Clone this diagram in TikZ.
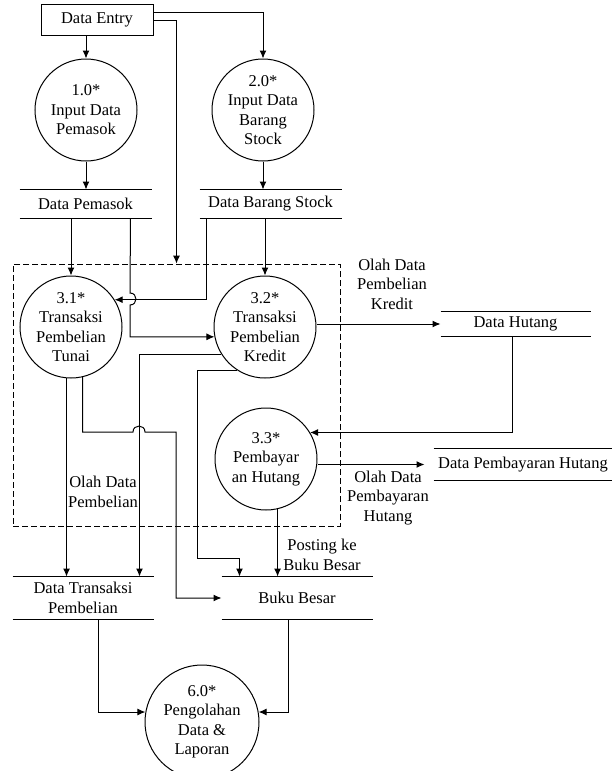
\documentclass[tikz,border=0pt]{standalone}
\usepackage{fontspec}
\setmainfont{Liberation Serif}
\usetikzlibrary{calc,arrows,arrows.meta}

\begin{document}
\begin{tikzpicture}[x=1pt,y=-1pt,line width=1pt,
    every node/.style={font=\fontsize{16.5}{19.5}\selectfont},
    proc/.style={circle,draw,minimum size=102pt,inner sep=0pt,align=center},
    store/.style={inner sep=0pt},
    lbl/.style={align=center},
    flow/.style={-{Latex[length=8pt,width=7pt]}}]
                 \useasboundingbox (0,0) rectangle (612,771);
                 \node[draw,minimum width=112pt,minimum height=31pt](entry)at(97,20){Data Entry};
                 \node[proc](p1)at(86,110){1.0*\\Input Data\\Pemasok};
                 \node[proc](p2)at(263,110){2.0*\\Input Data\\Barang\\Stock};
                 \node[store,minimum width=131pt,minimum height=28pt](pemasok)at(85.5,204){Data Pemasok};
                 \node[store,minimum width=141pt,minimum height=28pt](barang)at(270.5,204){Data Barang Stock};
                 \node[draw,dash pattern=on 6pt off 3pt,line width=0.8pt,minimum width=327pt,minimum height=262pt](grp)at(176.5,395){};
                 \node[proc](p31)at(71,327){3.1*\\Transaksi\\Pembelian\\Tunai};
                 \node[proc](p32)at(265,327){3.2*\\Transaksi\\Pembelian\\Kredit};
                 \node[proc](p33)at(266,459){3.3*\\Pembayar\\an Hutang};
                 \node[store,minimum width=149pt,minimum height=24pt](hutang)at(515.5,324){Data Hutang};
                 \node[store,minimum width=178pt,minimum height=31pt](bayar)at(523,464.5){Data Pembayaran Hutang};
                 \node[store,align=center,minimum width=140pt,minimum height=42pt](transaksi)at(83,598){Data Transaksi\\Pembelian};
                 \node[store,minimum width=150pt,minimum height=42pt](buku)at(297,598){Buku Besar};
                 \node[proc,minimum size=114pt](p6)at(202,722){6.0*\\Pengolahan\\Data \&\\Laporan};
                 \node[lbl](olahkredit)at(392,284){Olah Data\\Pembelian\\Kredit};
                 \node[lbl](olahbeli)at(103,492){Olah Data\\Pembelian};
                 \node[lbl](olahbayar)at(388,498){Olah Data\\Pembayaran\\Hutang};
                 \node[lbl](posting)at(322,555){Posting ke\\Buku Besar};
                 \foreach \s in {pemasok,barang,hutang,bayar,transaksi,buku}
                   \draw (\s.north west)--(\s.north east) (\s.south west)--(\s.south east);
                 \draw[flow](p1.north |- entry.south)--(p1.north);
                 \draw[flow](entry.8)-|(p2.north);
                 \draw[flow](entry.east)-|(grp.north);
                 \draw[flow](p1.south)--(p1.south |- pemasok.north);
                 \draw[flow](p2.south)--(p2.south |- barang.north);
                 \draw[flow](p31.north |- pemasok.south)--(p31.north);
                 \draw[flow]($(pemasok.south east)+(-21,0)$)--(130,293) to[out=0,in=0,looseness=1.7](130,305)|-(p32.191);
                 \draw[flow]($(barang.south west)+(7,0)$)|-(p31.32);
                 \draw[flow](p32.north |- barang.south)--(p32.north);
                 \draw[flow](p31.265)--(p31.265 |- transaksi.north);
                 \draw[flow](p31.283)|-(133,432) to[out=90,in=90,looseness=1.7](145,432)--(176,432)|-(buku.west);
                 \draw[flow](p32.212)-|($(transaksi.north east)+(-14,0)$);
                 \draw[flow](p32.237)-|(197,558)-|($(buku.north west)+(18,0)$);
                 \draw[flow](p33.283)--(p33.283 |- buku.north);
                 \draw[flow](hutang.west -| p32.east)--(hutang.west);
                 \draw[flow]($(hutang.south)+(-3.5,0)$)|-(p33.31);
                 \draw[flow](bayar.west -| p33.east)--($(bayar.west)+(-9,0)$);
                 \draw[flow]($(transaksi.south)+(15,0)$)|-(p6.170);
                 \draw[flow]($(buku.south)+(-9,0)$)|-(p6.10);
               \end{tikzpicture}
\end{document}
